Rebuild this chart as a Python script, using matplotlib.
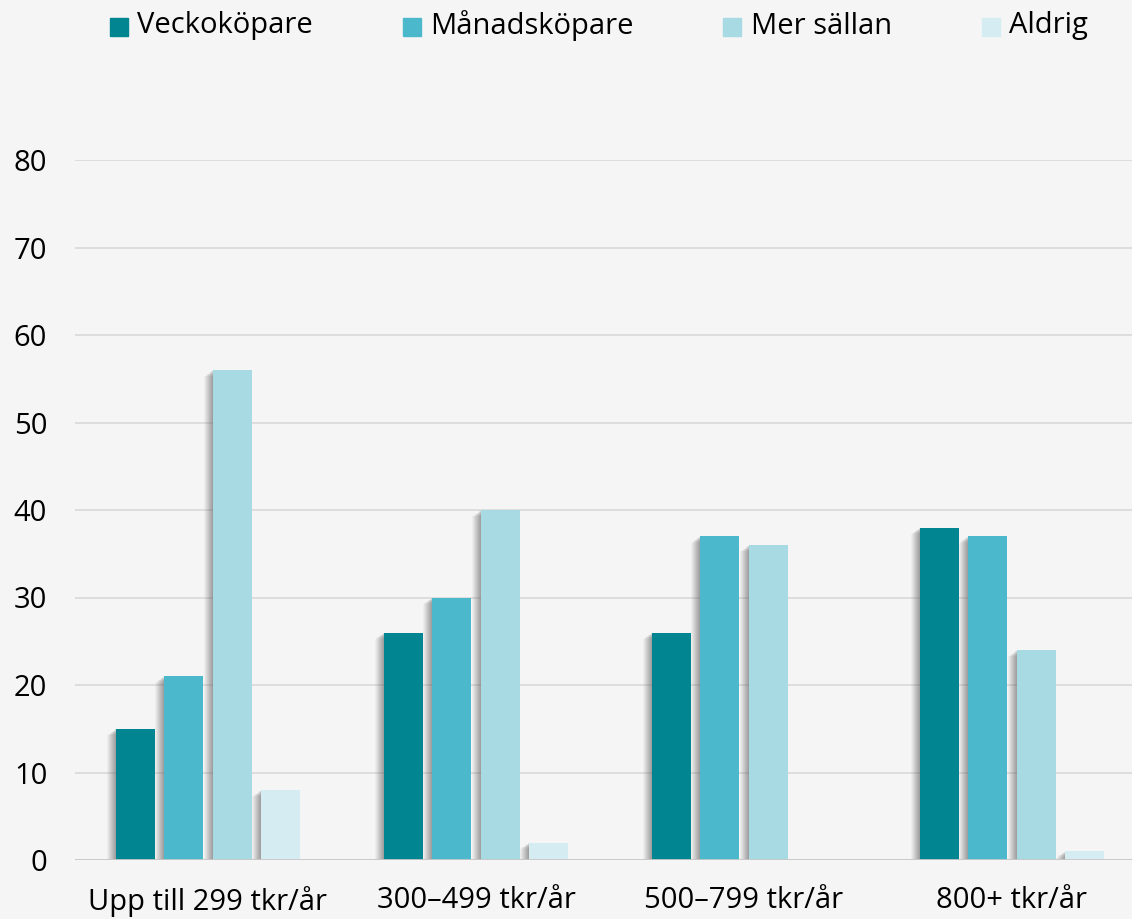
import matplotlib
matplotlib.use("Agg")
import matplotlib.pyplot as plt
from matplotlib.patches import Rectangle
import numpy as np

categories = ["Upp till 299 tkr/år", "300–499 tkr/år", "500–799 tkr/år", "800+ tkr/år"]
series_names = ["Veckoköpare", "Månadsköpare", "Mer sällan", "Aldrig"]
veckokopare = [15, 26, 26, 38]
manadskopare = [21, 30, 37, 37]
mer_sallan = [56, 40, 36, 24]
aldrig = [8, 2, 0, 1]
yticks = [0, 10, 20, 30, 40, 50, 60, 70, 80]

series = [veckokopare, manadskopare, mer_sallan, aldrig]
colors = ["#008591", "#4bb8cb", "#a8dae4", "#d5ecf2"]
bg = "#f5f5f5"

W, H = 1132, 919
fig = plt.figure(figsize=(W / 100, H / 100), dpi=100, facecolor=bg)
ax = fig.add_axes([75 / W, (H - 860) / H, 1 - 75 / W, (860 - 160) / H])
ax.set_facecolor(bg)

x = np.arange(len(categories))
step = 48.5 / 268
bw = 39 / 268
px = 1 / 268        # one pixel in x data units
py = 80 / 700       # one pixel in y data units

for j, (vals, c) in enumerate(zip(series, colors)):
    pos = x + (j - 1.5) * step
    vals = np.array(vals, dtype=float)
    # soft blurred shadow on the left side
    for k in range(9):
        off = (9 - k) * px
        drop = (9 - k) * 0.7 * py
        h = np.clip(vals - drop, 0, None)
        ax.bar(pos - off, h, width=bw, color="#6e6e6e", alpha=0.06 + 0.01 * k,
               edgecolor="none", zorder=2)
    ax.bar(pos, vals, width=bw, color=c, edgecolor="none", zorder=3)

ax.set_xlim((75 - 208) / 268, (1132 - 208) / 268)
ax.set_ylim(0, 80)
ax.set_yticks(yticks)
ax.yaxis.grid(True, color="#d9d9d9", linewidth=1.2, zorder=0)
ax.axhline(0, color="#c8c8c8", linewidth=2, zorder=4)
ax.set_axisbelow(True)
for s in ax.spines.values():
    s.set_visible(False)
ax.tick_params(axis="both", length=0)
ax.set_yticklabels([str(v) for v in yticks], fontsize=21, family="Open Sans")
for lab in ax.get_yticklabels():
    lab.set_horizontalalignment("right")
ax.tick_params(axis="y", pad=20)
ax.set_xticks(x)
ax.set_xticklabels(categories, fontsize=21, family="Open Sans")
ax.tick_params(axis="x", pad=19)

# legend
leg_sq = [110, 403, 723, 982]
leg_tx = [137, 430, 751, 1009]
for name, c, sx, tx in zip(series_names, colors, leg_sq, leg_tx):
    fig.patches.append(Rectangle((sx / W, (H - 36) / H), 18 / W, 18 / H,
                                 transform=fig.transFigure, color=c))
    fig.text(tx / W, (H - 26) / H, name, fontsize=21,
             family="Open Sans", va="center", ha="left")

fig.savefig("out.png", dpi=100, facecolor=bg)
